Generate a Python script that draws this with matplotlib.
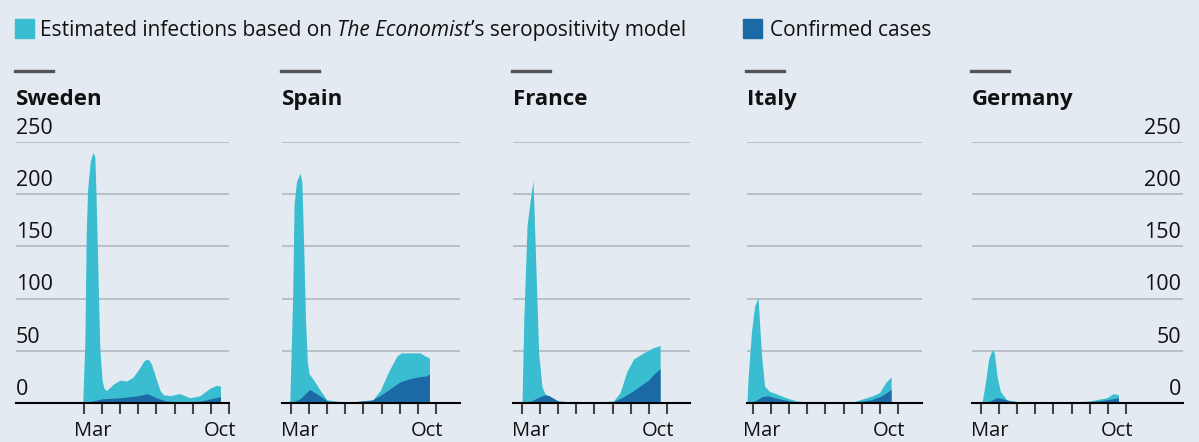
import matplotlib
matplotlib.use("Agg")
import matplotlib.pyplot as plt
from matplotlib.transforms import blended_transform_factory

plt.rcParams['font.family'] = ['Open Sans', 'DejaVu Sans']

# x is in months after 1 March 2020 (0 = Mar 1, 7 = Oct 1)
countries = ["Sweden", "Spain", "France", "Italy", "Germany"]

sweden_est_x = [-0.07, 0.05, 0.12, 0.2, 0.35, 0.5, 0.6, 0.68, 0.79, 0.88, 1.0, 1.1, 1.25, 1.62, 1.99,
                2.35, 2.72, 3.09, 3.3, 3.46, 3.6, 3.73, 4.01, 4.2, 4.38, 4.74, 5.29, 5.85, 6.40, 6.95,
                7.32, 7.54]
sweden_est = [0, 60, 160, 205, 232, 240, 236, 190, 110, 50, 22, 14, 12, 18, 22, 21, 25, 34, 40, 42, 41,
              37, 22, 12, 8, 7, 9, 5, 7, 14, 17, 16]
sweden_conf_x = [-0.07, 0.5, 1.0, 2.0, 3.0, 3.5, 4.0, 4.5, 5.5, 6.5, 7.0, 7.54]
sweden_conf = [0, 2, 4, 5, 7, 9, 5, 2, 1, 2, 4, 6]

spain_est_x = [-0.07, 0.09, 0.17, 0.3, 0.5, 0.6, 0.7, 0.8, 0.9, 1.0, 1.25, 1.62, 1.99, 2.9, 4.0, 4.47,
               4.93, 5.39, 5.85, 6.1, 6.4, 7.13, 7.41, 7.65]
spain_est = [0, 100, 190, 212, 220, 212, 150, 80, 40, 28, 22, 12, 3, 1, 0.5, 2, 12, 30, 45, 48, 48, 48,
             45, 43]
spain_conf_x = [-0.07, 0.5, 1.03, 1.5, 2.0, 3.0, 4.5, 5.0, 5.5, 6.0, 6.5, 7.0, 7.5, 7.65]
spain_conf = [0, 4, 13, 8, 2, 0.5, 3, 8, 14, 20, 23, 25, 26, 28]

france_est_x = [0, 0.1, 0.28, 0.46, 0.61, 0.74, 0.92, 1.10, 1.29, 1.56, 2.02, 3.77, 5.06, 5.42, 5.79,
                6.16, 6.71, 7.26, 7.63]
france_est = [0, 80, 170, 195, 213, 144, 48, 16, 8, 5, 1, 0.3, 2, 10, 30, 42, 48, 53, 55]
france_conf_x = [0, 0.5, 1.0, 1.29, 1.5, 2.0, 3.0, 5.0, 5.5, 6.0, 6.5, 7.0, 7.3, 7.63]
france_conf = [0, 2, 6, 8, 7, 2, 0.5, 1, 5, 10, 16, 22, 28, 33]

italy_est_x = [-0.33, -0.28, -0.09, 0.09, 0.28, 0.46, 0.64, 0.92, 1.10, 1.84, 2.39, 3.68, 5.51, 6.07,
               6.62, 6.99, 7.35, 7.63]
italy_est = [0, 22, 67, 93, 101, 48, 16, 11, 10, 5, 2, 0.5, 1, 4, 7, 10, 20, 25]
italy_conf_x = [-0.33, 0.0, 0.5, 0.8, 1.2, 2.0, 3.0, 5.5, 6.5, 7.0, 7.3, 7.63]
italy_conf = [0, 1, 6, 7, 5, 2, 0.5, 0.5, 3, 6, 9, 13]

germany_est_x = [0.05, 0.24, 0.42, 0.61, 0.74, 0.88, 1.07, 1.43, 2.17, 4.74, 6.03, 6.95, 7.32, 7.59]
germany_est = [0, 19, 42, 51, 48, 26, 11, 3, 1, 0.5, 2, 5, 9, 8]
germany_conf_x = [0.05, 0.5, 0.9, 1.2, 1.6, 2.5, 5.0, 6.5, 7.3, 7.59]
germany_conf = [0, 2, 5, 4, 2, 0.5, 0.3, 2, 4, 5]

y_ticks = [0, 50, 100, 150, 200, 250]
month_ticks = [0, 1, 2, 3, 4, 5, 6, 7, 8]

series = {
    "Sweden": (sweden_est_x, sweden_est, sweden_conf_x, sweden_conf),
    "Spain": (spain_est_x, spain_est, spain_conf_x, spain_conf),
    "France": (france_est_x, france_est, france_conf_x, france_conf),
    "Italy": (italy_est_x, italy_est, italy_conf_x, italy_conf),
    "Germany": (germany_est_x, germany_est, germany_conf_x, germany_conf),
}

# panel layout in pixels: left edge, right edge, x position of Mar 1
panels = {
    "Sweden": (16, 229, 84),
    "Spain": (282, 460, 291),
    "France": (513, 690, 522),
    "Italy": (747, 922, 753),
    "Germany": (972, 1183, 981),
}

W, H = 1199, 442
BG = "#e3eaf1"
LIGHT = "#3abdd0"
DARK = "#1b6aa6"
GRID = "#b7c0c8"
MONTH_PX = 18.1
y_top, y_bot = 142, 403

fig = plt.figure(figsize=(W / 100, H / 100), dpi=100, facecolor=BG)

for name in countries:
    L, R, mar = panels[name]
    ex, ev, cx, cv = series[name]
    ax = fig.add_axes([L / W, 1 - y_bot / H, (R - L) / W, (y_bot - y_top) / H])
    ax.set_facecolor("none")
    ax.set_xlim((L - mar) / MONTH_PX, (R - mar) / MONTH_PX)
    ax.set_ylim(0, 250)

    for y in y_ticks[1:]:
        ax.axhline(y, color=GRID, lw=1.4, zorder=1)

    ax.fill_between(ex, ev, color=LIGHT, lw=0, zorder=2)
    ax.fill_between(cx, cv, color=DARK, lw=0, zorder=3)
    ax.axhline(0, color="black", lw=1.5, zorder=4, clip_on=False)

    for s in ax.spines.values():
        s.set_visible(False)
    ax.set_yticks([])
    ax.set_xticks(month_ticks)
    ax.set_xticklabels([])
    ax.tick_params(axis="x", length=8, width=1.5, color="#444444", direction="out", pad=0)

    trans = blended_transform_factory(ax.transData, ax.transAxes)
    ax.text(0.5, -0.068, "Mar", transform=trans, ha="center", va="top", fontsize=14.5, color="#111")
    ax.text(7.5, -0.068, "Oct", transform=trans, ha="center", va="top", fontsize=14.5, color="#111")

    if name in ("Sweden", "Germany"):
        xa, ha = (0.0, "left") if name == "Sweden" else (0.99, "right")
        ytr = blended_transform_factory(ax.transAxes, ax.transData)
        for y in y_ticks:
            ax.text(xa, y + 3, str(y), transform=ytr, ha=ha, va="bottom", fontsize=15.5, color="#111")

    # title with short bar above
    fig.text(L / W, 1 - 105 / H, name, ha="left", va="baseline", fontsize=16, fontweight="bold", color="#111")
    fig.add_artist(plt.Line2D([(L - 1) / W, (L + 37) / W], [1 - 71 / H, 1 - 71 / H],
                              color="#555555", lw=2.4, transform=fig.transFigure))

# legend
fig.add_artist(plt.Rectangle((15 / W, 1 - 38 / H), 19 / W, 19 / H, color=LIGHT, transform=fig.transFigure))
t1 = fig.text(40 / W, 1 - 36 / H, "Estimated infections based on ", ha="left", va="baseline",
              fontsize=15, color="#111")
t2 = fig.text(0, 0, "The Economist", ha="left", va="baseline", fontsize=15, style="italic", color="#111")
t3 = fig.text(0, 0, "\u2019s seropositivity model", ha="left", va="baseline", fontsize=15, color="#111")
renderer = fig.canvas.get_renderer()
x = t1.get_window_extent(renderer).x1
t2.set_position((x / W, 1 - 36 / H))
x = t2.get_window_extent(renderer).x1
t3.set_position((x / W, 1 - 36 / H))

fig.add_artist(plt.Rectangle((743 / W, 1 - 38 / H), 19 / W, 19 / H, color=DARK, transform=fig.transFigure))
fig.text(770 / W, 1 - 36 / H, "Confirmed cases", ha="left", va="baseline", fontsize=15, color="#111")

fig.savefig("out.png", dpi=100, facecolor=BG)
